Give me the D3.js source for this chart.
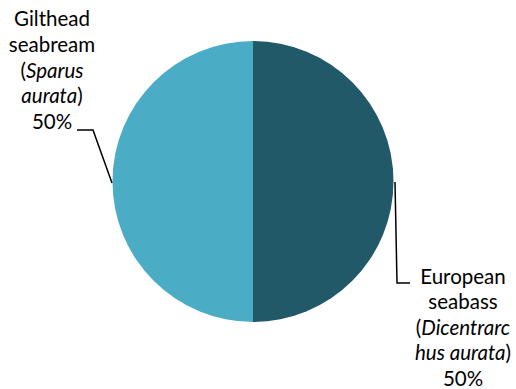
<!DOCTYPE html>
<html><head><meta charset="utf-8">
<script src="https://cdn.jsdelivr.net/npm/d3@7"></script>
<style>body{margin:0;background:#fff}svg{display:block}</style>
</head><body>
<script>
const categories = ["European seabass (Dicentrarchus aurata)", "Gilthead seabream (Sparus aurata)"];
const values = [50, 50];
const colors = ["#215968", "#4bacc6"];
// label lines: [text, italic]
const labelLines = [
  [[["European",false]],[["seabass",false]],[["(",false],["Dicentrarc",true]],[["hus aurata",true],[")",false]],[["50%",false]]],
  [[["Gilthead",false]],[["seabream",false]],[["(",false],["Sparus",true]],[["aurata",true],[")",false]],[["50%",false]]]
];

const W = 516, H = 389;
const svg = d3.select("body").append("svg").attr("width", W).attr("height", H);
const cx = 253, cy = 181.5, r = 140.5;
const g = svg.append("g").attr("transform", `translate(${cx},${cy})`);
const pie = d3.pie().sort(null).value(d => d)(values);
const arc = d3.arc().innerRadius(0).outerRadius(r);
g.selectAll("path").data(pie).enter().append("path")
  .attr("d", arc).attr("fill", (d, i) => colors[i]);

// leader lines
const leaders = [
  [[395, 182], [397, 283], [410, 283]],
  [[112, 183], [93, 130], [77, 130]]
];
svg.selectAll("polyline").data(leaders).enter().append("polyline")
  .attr("points", d => d.map(p => p.join(",")).join(" "))
  .attr("fill", "none").attr("stroke", "#000").attr("stroke-width", 1.5);

const labelPos = [{x: 52, y: 26}, {x: 463, y: 284}];
const order = [1, 0];
const lhs = [25.8, 25.4];
order.forEach((li, i) => {
  const lines = labelLines[li];
  const t = svg.append("text").attr("text-anchor", "middle")
    .attr("font-family", "Lato, sans-serif").attr("font-size", 20.5).attr("fill", "#000");
  lines.forEach((parts, j) => {
    parts.forEach((p, k) => {
      const ts = t.append("tspan").text(p[0]).attr("font-style", p[1] ? "italic" : "normal");
      if (k === 0) ts.attr("x", labelPos[i].x).attr("y", labelPos[i].y + j * lhs[i]);
    });
  });
});
</script>
</body></html>
